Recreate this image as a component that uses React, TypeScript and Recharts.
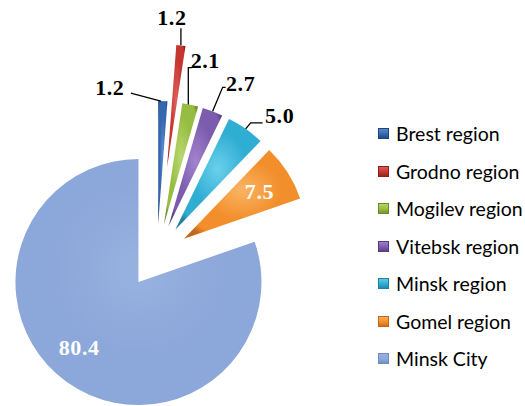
import { PieChart, Pie, Cell, Sector, Legend } from "recharts";

const REGIONS = ["Brest region", "Grodno region", "Mogilev region", "Vitebsk region", "Minsk region", "Gomel region", "Minsk City"];
const SHARES = [1.2, 1.2, 2.1, 2.7, 5.0, 7.5, 80.4];

// base / light / dark tones per slice
const COLORS = ["#3467ae", "#c63630", "#96bd42", "#7c5cad", "#30add3", "#f28e2c", "#8ca7d9"];
const LIGHT = ["#5e8fd0", "#e0605a", "#b9d86e", "#a283cf", "#6ad0ec", "#fbb462", "#98b2e0"];
const DARK = ["#1d447f", "#8c1f1b", "#6b8c2c", "#573a85", "#1c809f", "#c4661a", "#6e8ac0"];

// explosion distance of each slice (px)
const EXPLODE = [32, 89, 32, 32, 32, 32, 32];

// label position relative to the outer tip of the slice, and leader line points
const LABEL_OFFSET: [number, number][] = [[-53, -14], [-9, -28], [15, -44], [28, -28], [34, -13], [-28, 19], [12, -35]];
const LEADERS: [number, number][][] = [
  [[-2, 0], [-32, -8]],
  [[0, 0], [0, -17]],
  [[-2, 0], [-2, -37], [2, -37]],
  [[0, 0], [10, -24], [13, -24]],
  [[0, 0], [5, -6], [17, -6]],
  [],
  [],
];
const INSIDE = [false, false, false, false, false, true, true];

const data = REGIONS.map((name, i) => ({ name, value: SHARES[i] }));

const RAD = Math.PI / 180;

function ExplodedSector(props: any) {
  const { cx, cy, midAngle } = props;
  const i = REGIONS.indexOf(props.name ?? props.payload?.name);
  const e = EXPLODE[i] ?? 0;
  const dx = e * Math.cos(-midAngle * RAD);
  const dy = e * Math.sin(-midAngle * RAD);
  return <Sector {...props} cx={cx + dx} cy={cy + dy} fill={`url(#slice${i})`} stroke="none" />;
}

function renderLabel(props: any) {
  const { cx, cy, midAngle, outerRadius, index, value } = props;
  const r = outerRadius + EXPLODE[index];
  const tx = cx + r * Math.cos(-midAngle * RAD);
  const ty = cy + r * Math.sin(-midAngle * RAD);
  const [ox, oy] = LABEL_OFFSET[index];
  const pts = LEADERS[index].map(([x, y]) => `${tx + x},${ty + y}`).join(" ");
  return (
    <g>
      {pts && <polyline points={pts} fill="none" stroke="#000" strokeWidth={1.3} />}
      <text
        x={tx + ox}
        y={ty + oy}
        textAnchor="middle"
        dominantBaseline="central"
        fontFamily="'Liberation Serif', serif"
        fontWeight="bold"
        fontSize={22}
        letterSpacing={0.6}
        fill={INSIDE[index] ? "#fff" : "#000"}
      >
        {Number(value).toFixed(1)}
      </text>
    </g>
  );
}

// legend drawn in the original series order
function LegendList() {
  return (
    <div style={{ fontFamily: "Lato, sans-serif", fontSize: 19.5, color: "#000" }}>
      {REGIONS.map((name, i) => (
        <div key={name} style={{ display: "flex", alignItems: "center", height: 37.5 }}>
          <span
            style={{
              width: 11,
              height: 11,
              marginRight: 7,
              background: `linear-gradient(to bottom, ${LIGHT[i]}, ${COLORS[i]} 55%, ${DARK[i]})`,
              boxShadow: `inset 0 0 0 1px ${DARK[i]}`,
            }}
          />
          <span>{name}</span>
        </div>
      ))}
    </div>
  );
}

export default function App() {
  return (
    <div style={{ width: 525, height: 406, background: "#fff", position: "relative" }}>
      <style>{"body{margin:0}"}</style>
      <PieChart width={525} height={406} margin={{ top: 0, right: 0, bottom: 0, left: 0 }}>
        <defs>
          {COLORS.map((c, i) => (
            <radialGradient key={i} id={`slice${i}`} cx="50%" cy="45%" r="62%">
              <stop offset="0%" stopColor={LIGHT[i]} />
              <stop offset="55%" stopColor={c} />
              <stop offset="88%" stopColor={c} />
              <stop offset="100%" stopColor={DARK[i]} />
            </radialGradient>
          ))}
        </defs>
        <Pie
          data={data}
          dataKey="value"
          nameKey="name"
          cx={157}
          cy={256}
          outerRadius={123}
          startAngle={90}
          endAngle={-270}
          stroke="none"
          shape={ExplodedSector}
          label={renderLabel}
          labelLine={false}
          isAnimationActive={false}
        >
          {data.map((d, i) => (
            <Cell key={d.name} fill={COLORS[i]} />
          ))}
        </Pie>
        <Legend
          layout="vertical"
          align="right"
          verticalAlign="top"
          content={LegendList}
          wrapperStyle={{ position: "absolute", left: 378, top: 115, width: 147 }}
        />
      </PieChart>
    </div>
  );
}
